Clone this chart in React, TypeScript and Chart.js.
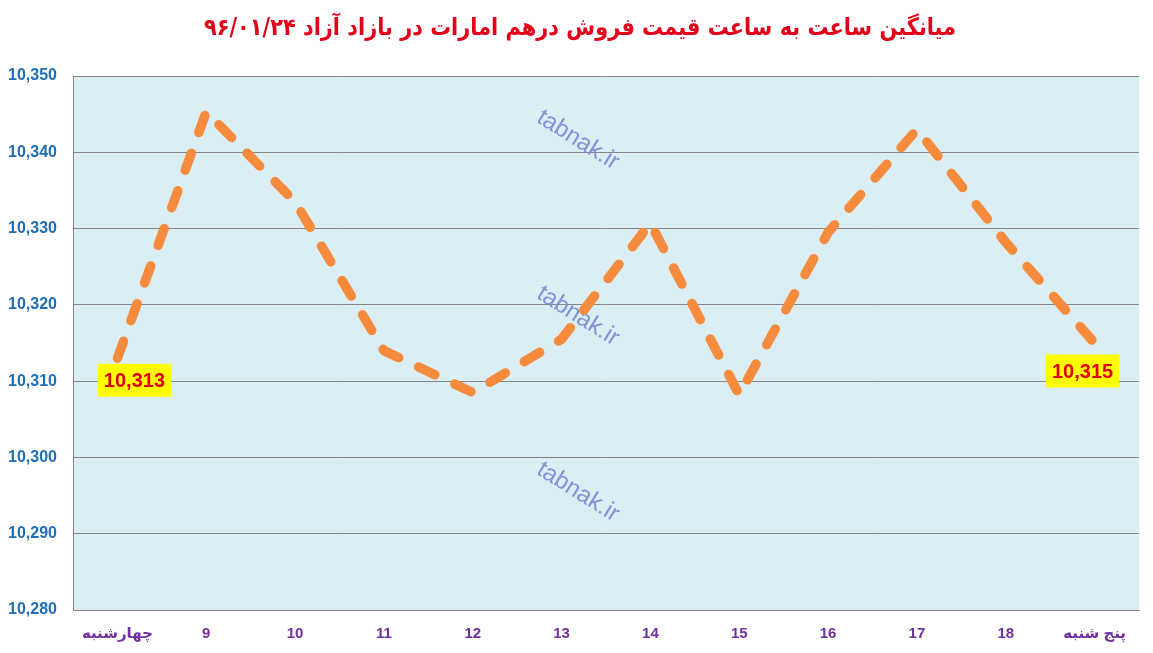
import React, { useEffect, useRef } from "react";
import { Chart, registerables } from "chart.js";

Chart.register(...registerables);

const titleText = "میانگین ساعت به ساعت قیمت فروش درهم امارات در بازاد آزاد ۹۶/۰۱/۲۴";
const categories = ["چهارشنبه", "9", "10", "11", "12", "13", "14", "15", "16", "17", "18", "پنج شنبه"];
const prices = [10313, 10345.3, 10333.5, 10314, 10308.5, 10315.5, 10330.7, 10308.2, 10329.5, 10343, 10328.2, 10315];
const yMin = 10280;
const yMax = 10350;
const yStep = 10;
const labelledPoints = [0, 11];
const watermarkText = "tabnak.ir";

const fmt = (v: number) => Math.round(v).toLocaleString("en-US");

export default function App() {
  const ref = useRef<HTMLCanvasElement | null>(null);

  useEffect(() => {
    document.body.style.margin = "0";
    const canvas = ref.current;
    if (!canvas) return;

    const bgPlugin = {
      id: "plotBg",
      beforeDraw(chart: any) {
        const { ctx, chartArea: a } = chart;
        ctx.save();
        ctx.fillStyle = "#DBEEF4";
        ctx.fillRect(a.left, a.top, a.right - a.left, a.bottom - a.top);
        ctx.restore();
      },
    };

    const titlePlugin = {
      id: "persianTitle",
      afterDraw(chart: any) {
        const { ctx } = chart;
        ctx.save();
        ctx.fillStyle = "#E2001A";
        ctx.font = "bold 24px 'DejaVu Sans', sans-serif";
        ctx.textAlign = "center";
        ctx.textBaseline = "middle";
        ctx.direction = "rtl";
        ctx.translate(580, 29);
        ctx.scale(0.87, 1);
        ctx.fillText(titleText, 0, 0);
        ctx.restore();
      },
    };

    const watermarkPlugin = {
      id: "watermark",
      beforeDatasetsDraw(chart: any) {
        const { ctx } = chart;
        const centers = [140, 316, 492];
        ctx.save();
        ctx.fillStyle = "rgba(120,138,212,0.9)";
        ctx.font = "24px 'Liberation Sans', sans-serif";
        ctx.textAlign = "center";
        ctx.textBaseline = "middle";
        centers.forEach((cy) => {
          ctx.save();
          ctx.translate(578, cy);
          ctx.rotate((32 * Math.PI) / 180);
          ctx.fillText(watermarkText, 0, 0);
          ctx.restore();
        });
        ctx.restore();
      },
    };

    const labelPlugin = {
      id: "pointLabels",
      afterDatasetsDraw(chart: any) {
        const { ctx } = chart;
        const meta = chart.getDatasetMeta(0);
        const offsets: Record<number, [number, number]> = { 0: [17, 22], 11: [-12, 28] };
        ctx.save();
        ctx.font = "bold 20px 'Liberation Sans', sans-serif";
        ctx.textAlign = "center";
        ctx.textBaseline = "middle";
        labelledPoints.forEach((i) => {
          const el = meta.data[i];
          const [dx, dy] = offsets[i];
          const cx = el.x + dx;
          const cy = el.y + dy;
          const text = fmt(prices[i]);
          const w = ctx.measureText(text).width + 12;
          const h = 33;
          ctx.fillStyle = "#FFFF00";
          ctx.fillRect(cx - w / 2, cy - h / 2, w, h);
          ctx.fillStyle = "#E00010";
          ctx.fillText(text, cx, cy + 1);
        });
        ctx.restore();
      },
    };

    const chart = new Chart(canvas, {
      type: "line",
      data: {
        labels: categories,
        datasets: [
          {
            data: prices,
            borderColor: "#F68B3D",
            borderWidth: 9.5,
            borderDash: [18, 22],
            borderCapStyle: "round",
            borderJoinStyle: "round",
            pointRadius: 0,
            tension: 0,
            fill: false,
          },
        ],
      },
      options: {
        animation: false,
        responsive: true,
        maintainAspectRatio: false,
        devicePixelRatio: 1,
        layout: { padding: { top: 76, right: 14, left: 0, bottom: 0 } },
        plugins: {
          legend: { display: false },
          tooltip: { enabled: false },
          title: { display: false },
        },
        scales: {
          x: {
            offset: true,
            grid: { display: false, drawTicks: false },
            border: { display: true, color: "#868686", width: 1 },
            ticks: {
              color: "#7030A0",
              font: { family: "'Liberation Sans', 'DejaVu Sans', sans-serif", size: 15, weight: "bold" },
              padding: 15,
              maxRotation: 0,
              autoSkip: false,
            },
            afterFit(scale: any) {
              scale.height = 43;
            },
          },
          y: {
            min: yMin,
            max: yMax,
            grid: { color: "#868686", lineWidth: 1, drawTicks: false },
            border: { display: true, color: "#868686", width: 1 },
            ticks: {
              stepSize: yStep,
              color: "#1F6EB4",
              padding: 16,
              font: { family: "'Liberation Sans', sans-serif", size: 16, weight: "bold" },
              callback: (v: any) => fmt(Number(v)),
            },
            afterFit(scale: any) {
              scale.width = 73;
            },
          },
        },
      },
      plugins: [bgPlugin, watermarkPlugin, labelPlugin, titlePlugin],
    });

    return () => chart.destroy();
  }, []);

  return (
    <div style={{ position: "fixed", left: 0, top: 0, width: 1153, height: 653, background: "#fff" }}>
      <canvas ref={ref} />
    </div>
  );
}
